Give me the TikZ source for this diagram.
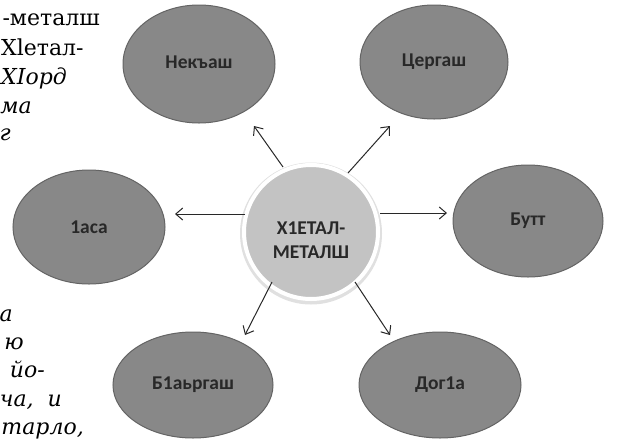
\documentclass[tikz,border=0pt]{standalone}
\usepackage{fontspec}
\setmainfont{DejaVu Serif}
\newfontfamily\lblfont{Carlito}
\usetikzlibrary{shapes.geometric,arrows.meta}
\definecolor{bubfill}{RGB}{136,136,136}
\definecolor{bubline}{RGB}{100,100,100}
\definecolor{hubfill}{RGB}{195,195,195}
\definecolor{inkc}{RGB}{40,40,40}
\tikzset{
  bub/.style={ellipse, fill=bubfill, draw=bubline, line width=1pt, inner sep=0pt,
    font=\lblfont\bfseries\fontsize{19.5}{22}\selectfont, text=inkc},
  arr/.style={draw=inkc, line width=1pt, -{Straight Barb[length=7pt,width=12pt,line width=1pt]}},
  bodytxt/.style={anchor=base west, inner sep=0pt, font=\fontsize{22}{29}\selectfont, text=black},
  bodyit/.style={bodytxt, font=\itshape\fontsize{22}{29}\selectfont},
  bodyend/.style={bodyit, anchor=base east}
}
\begin{document}
\begin{tikzpicture}[x=1pt,y=-1pt]
\useasboundingbox (0,0) rectangle (622,440);
\fill[white] (0,0) rectangle (622,440);
% book text fragments
\node[bodytxt, anchor=base east] (t1) at (100,25) {-металш};
\node[bodytxt] (t2) at (1,55) {Хlетал-};
\node[bodyit] (t3) at (1,84) {ХIорд};
\node[bodyend] (t4) at (32,113) {ма};
\node[bodyend] (t5) at (11,140) {г};
\node[bodyend] (t6) at (13,321) {а};
\node[bodyend] (t7) at (24,349) {ю};
\node[bodyend] (t8) at (45,377) {йо-};
\node[bodyend] (t9) at (62,406) {ча,\ \ и};
\node[bodyend] (t10) at (84,434) {тарло,};
% hub
\fill[black!12] (311,233.5) circle (71);
\node[circle, fill=hubfill, draw=white, line width=4pt, minimum size=134pt, inner sep=0pt] (hub) at (311,232) {};
\node[align=center, inner sep=0pt, font=\lblfont\bfseries\fontsize{19.5}{24}\selectfont, text=inkc] (hubtxt) at (311,240) {Х1ЕТАЛ-\\МЕТАЛШ};
% satellites
\node[bub, minimum width=152pt, minimum height=118pt] (nek) at (199,64) {\raisebox{3pt}{Некъаш}};
\node[bub, minimum width=148pt, minimum height=114pt] (cer) at (434,62) {\raisebox{3pt}{Цергаш}};
\node[bub, minimum width=150pt, minimum height=112pt] (but) at (528,221) {Бутт};
\node[bub, minimum width=152pt, minimum height=114pt] (asa) at (89,227) {1аса};
\node[bub, minimum width=160pt, minimum height=106pt] (bar) at (193,385) {\raisebox{2pt}{Б1аьргаш}};
\node[bub, minimum width=162pt, minimum height=106pt] (dog) at (440,385) {\raisebox{2pt}{Дог1а}};
% connectors
\coordinate (s1) at (283,167); \coordinate (e1) at (254,126);
\coordinate (s2) at (348,173); \coordinate (e2) at (390,126);
\coordinate (s3) at (245,214); \coordinate (e3) at (175,214);
\coordinate (s4) at (380,213); \coordinate (e4) at (447,213);
\coordinate (s5) at (272,282); \coordinate (e5) at (245,335);
\coordinate (s6) at (355,282); \coordinate (e6) at (390,335);
\draw[arr] (s1) -- (e1);
\draw[arr] (s2) -- (e2);
\draw[arr] (s3) -- (e3);
\draw[arr] (s4) -- (e4);
\draw[arr] (s5) -- (e5);
\draw[arr] (s6) -- (e6);
\end{tikzpicture}
\end{document}
